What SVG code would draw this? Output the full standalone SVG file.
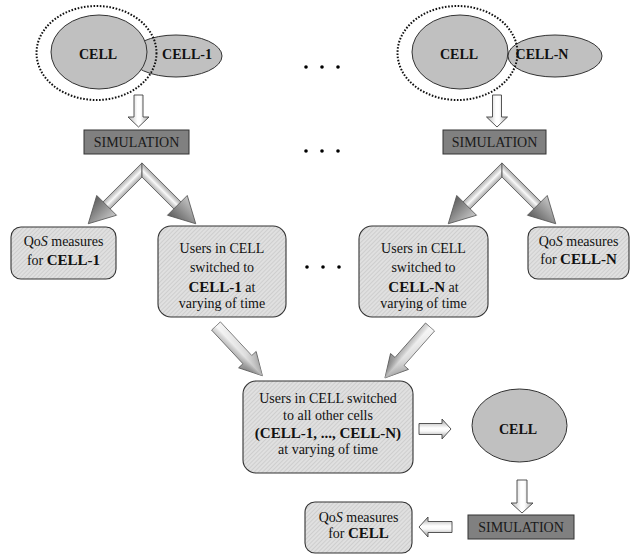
<svg xmlns="http://www.w3.org/2000/svg" width="631" height="554" viewBox="0 0 631 554">
<defs>
  <pattern id="hatch" width="3" height="3" patternUnits="userSpaceOnUse" patternTransform="rotate(45)">
    <rect width="3" height="3" fill="#e0e0e0"/>
    <line x1="0" y1="0" x2="0" y2="3" stroke="#c2c2c2" stroke-width="1.2"/>
  </pattern>
  <linearGradient id="gV" x1="0" y1="0" x2="1" y2="0">
    <stop offset="0" stop-color="#b8b8b8"/>
    <stop offset="0.45" stop-color="#ffffff"/>
    <stop offset="0.6" stop-color="#ffffff"/>
    <stop offset="1" stop-color="#a8a8a8"/>
  </linearGradient>
  <linearGradient id="gH" x1="0" y1="0" x2="0" y2="1">
    <stop offset="0" stop-color="#a0a0a0"/>
    <stop offset="0.45" stop-color="#ffffff"/>
    <stop offset="0.6" stop-color="#fafafa"/>
    <stop offset="1" stop-color="#9a9a9a"/>
  </linearGradient>
  <linearGradient id="gShaft" gradientUnits="userSpaceOnUse" x1="0" y1="-5" x2="0" y2="5">
    <stop offset="0" stop-color="#a8a8a8"/>
    <stop offset="0.5" stop-color="#f8f8f8"/>
    <stop offset="1" stop-color="#b0b0b0"/>
  </linearGradient>
  <linearGradient id="gHead" gradientUnits="userSpaceOnUse" x1="0" y1="-14" x2="0" y2="14">
    <stop offset="0" stop-color="#c8c8c8"/>
    <stop offset="1" stop-color="#5c5c5c"/>
  </linearGradient>
  <linearGradient id="gDiag" gradientUnits="userSpaceOnUse" x1="0" y1="0" x2="68" y2="0">
    <stop offset="0" stop-color="#f0f0f0"/>
    <stop offset="0.6" stop-color="#c8c8c8"/>
    <stop offset="1" stop-color="#6a6a6a"/>
  </linearGradient>
  <linearGradient id="gDiagX" gradientUnits="userSpaceOnUse" x1="0" y1="-12" x2="0" y2="12">
    <stop offset="0" stop-color="#ffffff" stop-opacity="0"/>
    <stop offset="0.5" stop-color="#ffffff" stop-opacity="0.5"/>
    <stop offset="1" stop-color="#000000" stop-opacity="0.15"/>
  </linearGradient>
</defs>
<style>
  .ell { fill: #c0c0c0; stroke: #333; stroke-width: 1; }
  .dot { fill: none; stroke: #111; stroke-width: 2; stroke-dasharray: 1.6 1.6; }
  .sim { fill: #808080; stroke: #333; stroke-width: 1; }
  .box { fill: url(#hatch); stroke: #333; stroke-width: 1.1; }
  text { font-family: 'Liberation Serif', 'DejaVu Serif', serif; }
  .t { font-size: 14px; fill: #111; text-anchor: middle; }
  .b { font-weight: bold; font-size: 15px; }
  .c { font-size: 14px; font-weight: bold; fill: #111; text-anchor: middle; }
  .st { font-size: 14px; fill: #1a1a1a; text-anchor: middle; }
  .ba { stroke: #444; stroke-width: 0.9; }
  .ar { stroke: #555; stroke-width: 0.8; }
  .ellipsis { fill: #000; }
</style>

<!-- Left cell group -->
<g id="cell1-neighbor">
  <ellipse class="ell" cx="176" cy="56" rx="46" ry="21"/>
  <text class="c" x="187" y="59">CELL-1</text>
</g>
<g id="cell-left">
  <ellipse class="ell" cx="99" cy="52" rx="48" ry="37"/>
  <text class="c" x="98" y="59">CELL</text>
</g>
<g id="cluster-left">
  <ellipse class="dot" cx="96.5" cy="53" rx="60" ry="47"/>
</g>

<!-- Right cell group -->
<g id="cellN-neighbor">
  <ellipse class="ell" cx="555" cy="56" rx="47" ry="21"/>
  <text class="c" x="542" y="59">CELL-N</text>
</g>
<g id="cell-right">
  <ellipse class="ell" cx="460" cy="52" rx="48" ry="37"/>
  <text class="c" x="459" y="59">CELL</text>
</g>
<g id="cluster-right">
  <ellipse class="dot" cx="457.5" cy="53" rx="60" ry="47"/>
</g>

<!-- Simulation boxes -->
<g id="sim-left">
  <rect class="sim" x="84" y="130" width="105" height="24"/>
  <text class="st" x="136.5" y="147">SIMULATION</text>
</g>
<g id="sim-right">
  <rect class="sim" x="443" y="130" width="103" height="24"/>
  <text class="st" x="494.5" y="147">SIMULATION</text>
</g>

<!-- Result boxes -->
<g id="qos-cell1">
  <rect class="box" x="11" y="227" width="105" height="52" rx="10"/>
  <text class="t" x="63.5" y="246">Qo<tspan font-style="italic">S</tspan> measures</text>
  <text class="t" x="63.5" y="265">for <tspan class="b">CELL-1</tspan></text>
</g>
<g id="users-cell1">
  <rect class="box" x="158" y="226" width="128" height="91" rx="13"/>
  <text class="t" x="222" y="253">Users in CELL</text>
  <text class="t" x="222" y="272">switched to</text>
  <text class="t" x="222" y="292"><tspan class="b">CELL-1</tspan> at</text>
  <text class="t" x="222" y="308">varying of time</text>
</g>
<g id="users-cellN">
  <rect class="box" x="359" y="226" width="129" height="91" rx="13"/>
  <text class="t" x="423.5" y="253">Users in CELL</text>
  <text class="t" x="423.5" y="272">switched to</text>
  <text class="t" x="423.5" y="292"><tspan class="b">CELL-N</tspan> at</text>
  <text class="t" x="423.5" y="308">varying of time</text>
</g>
<g id="qos-cellN">
  <rect class="box" x="528" y="227" width="101" height="52" rx="10"/>
  <text class="t" x="578.5" y="246">Qo<tspan font-style="italic">S</tspan> measures</text>
  <text class="t" x="578.5" y="264">for <tspan class="b">CELL-N</tspan></text>
</g>

<g id="users-all">
  <rect class="box" x="243" y="381" width="170" height="92" rx="13"/>
  <text class="t" x="328" y="403">Users in CELL switched</text>
  <text class="t" x="328" y="420">to all other cells</text>
  <text class="t b" x="328" y="438">(CELL-1, ..., CELL-N)</text>
  <text class="t" x="328" y="454">at varying of time</text>
</g>
<g id="cell-bottom">
  <ellipse class="ell" cx="519.5" cy="425.5" rx="47.5" ry="36.5"/>
  <text class="c" x="518" y="434">CELL</text>
</g>
<g id="sim-bottom">
  <rect class="sim" x="468" y="515" width="106" height="24"/>
  <text class="st" x="521" y="532">SIMULATION</text>
</g>
<g id="qos-cell">
  <rect class="box" x="305" y="502" width="107" height="51" rx="10"/>
  <text class="t" x="358.5" y="522">Qo<tspan font-style="italic">S</tspan> measures</text>
  <text class="t" x="358.5" y="538">for <tspan class="b">CELL</tspan></text>
</g>

<!-- Ellipsis dots -->
<g id="ellipses">
  <circle class="ellipsis" cx="306" cy="67" r="1.8"/>
  <circle class="ellipsis" cx="322" cy="67" r="1.8"/>
  <circle class="ellipsis" cx="338" cy="67" r="1.8"/>
  <circle class="ellipsis" cx="306" cy="151" r="1.8"/>
  <circle class="ellipsis" cx="322" cy="151" r="1.8"/>
  <circle class="ellipsis" cx="338" cy="151" r="1.8"/>
  <circle class="ellipsis" cx="307" cy="267" r="1.8"/>
  <circle class="ellipsis" cx="323" cy="267" r="1.8"/>
  <circle class="ellipsis" cx="339" cy="267" r="1.8"/>
</g>

<!-- Connectors -->
<g id="connectors">
  <path class="ba" fill="url(#gV)" d="M134,95 H143 V117 H149 L138.5,127 L128,117 H134 Z"/>
  <path class="ba" fill="url(#gV)" d="M492.5,95 H501.5 V117 H507.5 L497,127 L486.5,117 H492.5 Z"/>

  <g transform="translate(142,170) rotate(135)">
    <polygon class="ar" fill="url(#gShaft)" points="5,-5 51,-5 51,5 -5,5"/>
    <polygon class="ar" fill="url(#gHead)" points="50,-14 76,0 50,14"/>
  </g>
  <g transform="translate(142,170) rotate(45)">
    <polygon class="ar" fill="url(#gShaft)" points="-5,-5 51,-5 51,5 5,5"/>
    <polygon class="ar" fill="url(#gHead)" points="50,-14 76,0 50,14"/>
  </g>
  <g transform="translate(502,170) rotate(135)">
    <polygon class="ar" fill="url(#gShaft)" points="5,-5 51,-5 51,5 -5,5"/>
    <polygon class="ar" fill="url(#gHead)" points="50,-14 76,0 50,14"/>
  </g>
  <g transform="translate(502,170) rotate(45)">
    <polygon class="ar" fill="url(#gShaft)" points="-5,-5 51,-5 51,5 5,5"/>
    <polygon class="ar" fill="url(#gHead)" points="50,-14 76,0 50,14"/>
  </g>

  <g transform="translate(216,326) rotate(47)">
    <polygon class="ar" fill="url(#gDiag)" points="0,-6 46,-6 46,-12 68,0 46,12 46,6 0,6"/>
    <polygon fill="url(#gDiagX)" points="0,-6 46,-6 46,-12 68,0 46,12 46,6 0,6"/>
  </g>
  <g transform="translate(430,327) rotate(131.5)">
    <polygon class="ar" fill="url(#gDiag)" points="0,-6 46,-6 46,-12 68,0 46,12 46,6 0,6"/>
    <polygon fill="url(#gDiagX)" points="0,-6 46,-6 46,-12 68,0 46,12 46,6 0,6"/>
  </g>

  <path class="ba" fill="url(#gH)" d="M419,423.5 H442 V419 L451,429 L442,439 V434.5 H419 Z"/>
  <path class="ba" fill="url(#gV)" d="M517,480 H527 V503 H533 L522,513 L511,503 H517 Z"/>
  <path class="ba" fill="url(#gH)" d="M452,521.5 H428 V517 L419,527 L428,537 V532.5 H452 Z"/>
</g>
</svg>
